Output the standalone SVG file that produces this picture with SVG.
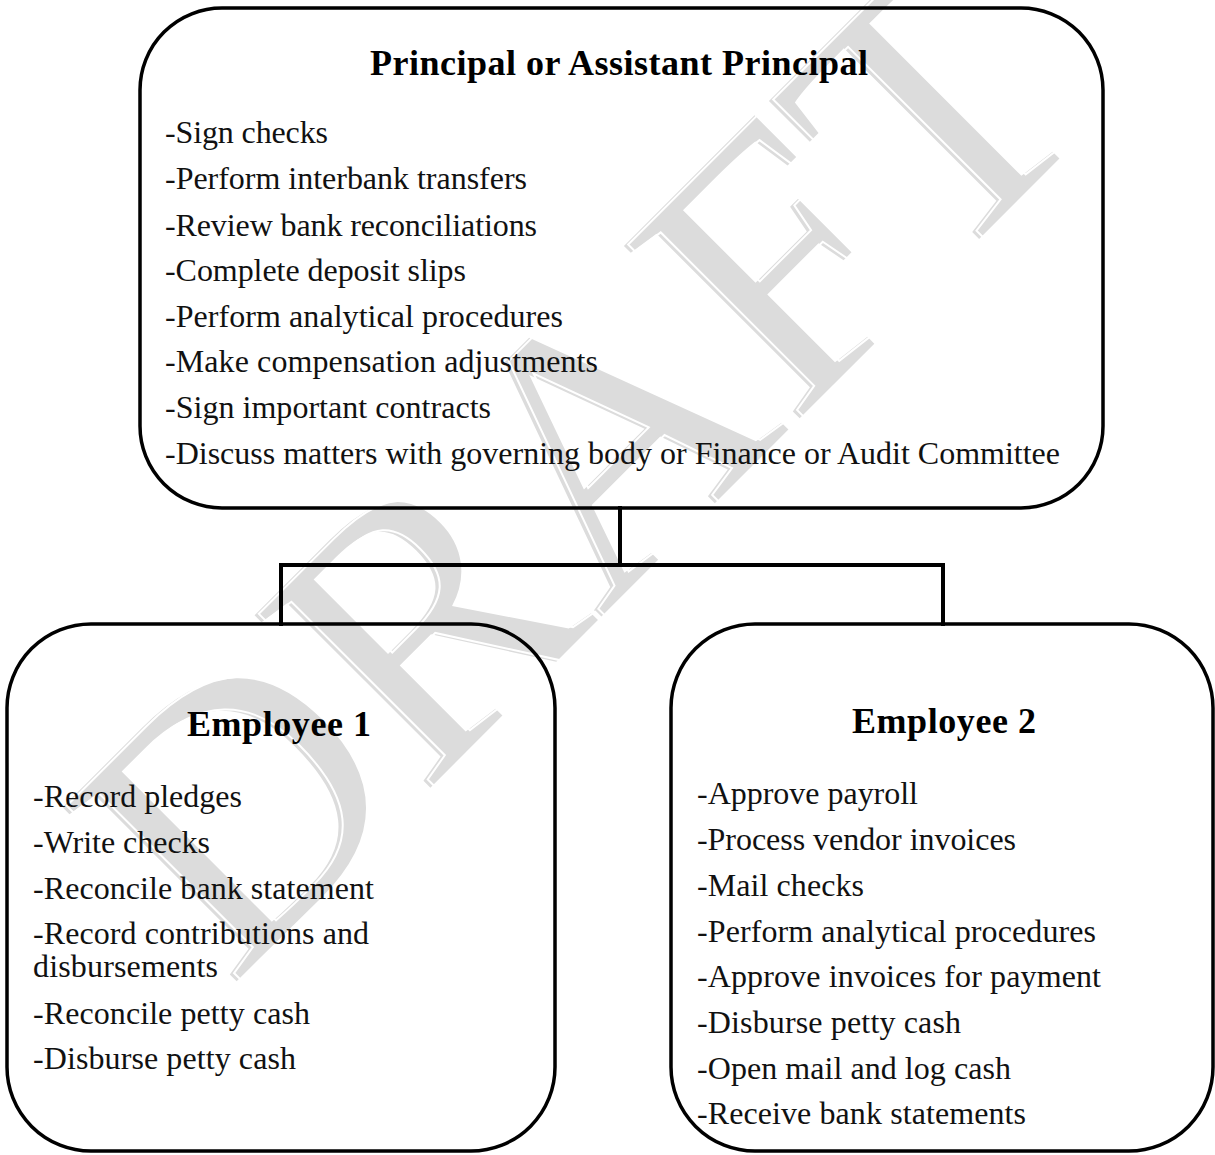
<svg xmlns="http://www.w3.org/2000/svg" width="1215" height="1155" viewBox="0 0 1215 1155">
<style>
.box{fill:none;stroke:#000;stroke-width:3.5}
.conn{fill:none;stroke:#000;stroke-width:4;stroke-linecap:square}
.ttl{font-family:"Liberation Serif","Times New Roman",serif;font-weight:bold;font-size:36px;fill:#000;text-anchor:middle}
.itm{font-family:"Liberation Serif","Times New Roman",serif;font-size:32px;fill:#111}
.wm{font-family:"Liberation Serif","Times New Roman",serif;font-size:376px}
</style>
<rect width="1215" height="1155" fill="#fff"/>
<g id="watermark">
<text class="wm" fill="#dcdcdc" transform="translate(229,989) rotate(-45)">DRAFT</text>
<text class="wm" fill="none" stroke="#fff" stroke-width="2" transform="translate(229,989) rotate(-45) translate(4,2)">DRAFT</text>
</g>
<g id="connectors">
<path class="conn" d="M620,508 V565 M281,565 H943 M281,565 V624 M943,565 V624"/>
</g>
<g id="principal">
<rect class="box" x="140" y="8" width="963" height="500" rx="82" ry="82"/>
<text class="ttl" x="619" y="75" textLength="498">Principal or Assistant Principal</text>
<text class="itm" x="165" y="143" textLength="163">-Sign checks</text>
<text class="itm" x="165" y="189" textLength="362">-Perform interbank transfers</text>
<text class="itm" x="165" y="236" textLength="372">-Review bank reconciliations</text>
<text class="itm" x="165" y="281" textLength="301">-Complete deposit slips</text>
<text class="itm" x="165" y="327" textLength="398">-Perform analytical procedures</text>
<text class="itm" x="165" y="372" textLength="433">-Make compensation adjustments</text>
<text class="itm" x="165" y="418" textLength="326">-Sign important contracts</text>
<text class="itm" x="165" y="464" textLength="895">-Discuss matters with governing body or Finance or Audit Committee</text>
</g>
<g id="employee1">
<rect class="box" x="7" y="624" width="548" height="527" rx="84" ry="84"/>
<text class="ttl" x="279" y="736" textLength="184">Employee 1</text>
<text class="itm" x="33" y="807" textLength="209">-Record pledges</text>
<text class="itm" x="33" y="853" textLength="177">-Write checks</text>
<text class="itm" x="33" y="899" textLength="341">-Reconcile bank statement</text>
<text class="itm" x="33" y="944" textLength="336">-Record contributions and</text>
<text class="itm" x="33" y="977" textLength="185">disbursements</text>
<text class="itm" x="33" y="1024" textLength="277">-Reconcile petty cash</text>
<text class="itm" x="33" y="1069" textLength="263">-Disburse petty cash</text>
</g>
<g id="employee2">
<rect class="box" x="671" y="624" width="542" height="527" rx="84" ry="84"/>
<text class="ttl" x="944" y="733" textLength="184">Employee 2</text>
<text class="itm" x="697" y="804" textLength="221">-Approve payroll</text>
<text class="itm" x="697" y="850" textLength="319">-Process vendor invoices</text>
<text class="itm" x="697" y="896" textLength="167">-Mail checks</text>
<text class="itm" x="697" y="942" textLength="399">-Perform analytical procedures</text>
<text class="itm" x="697" y="987" textLength="404">-Approve invoices for payment</text>
<text class="itm" x="697" y="1033" textLength="264">-Disburse petty cash</text>
<text class="itm" x="697" y="1079" textLength="314">-Open mail and log cash</text>
<text class="itm" x="697" y="1124" textLength="329">-Receive bank statements</text>
</g>
</svg>
